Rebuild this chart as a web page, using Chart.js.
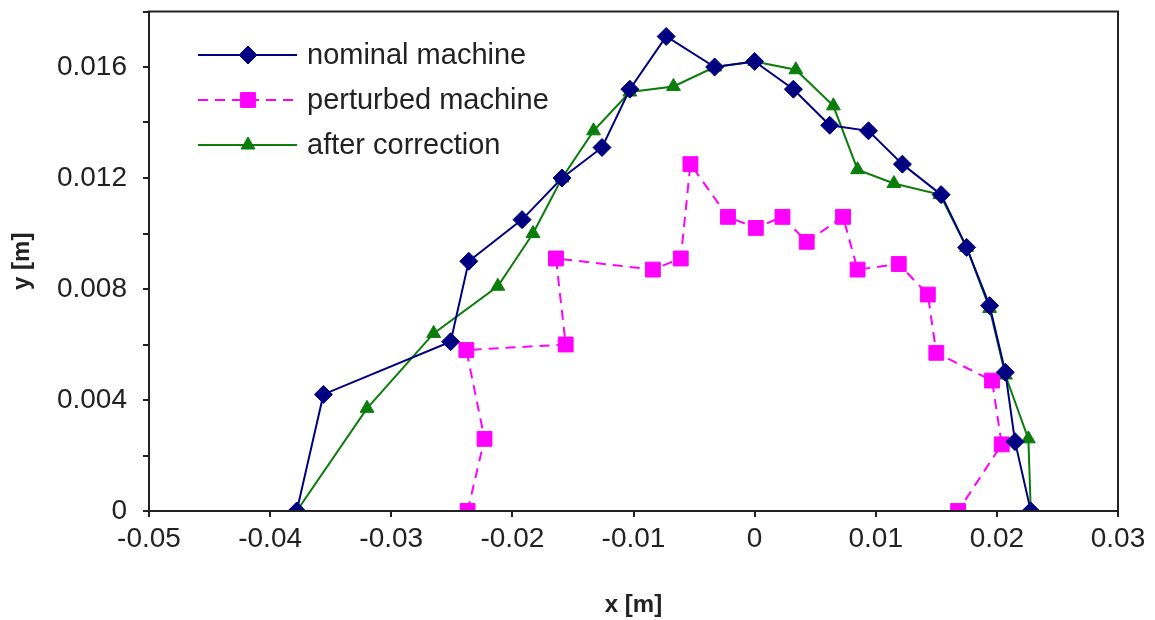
<!DOCTYPE html>
<html>
<head>
<meta charset="utf-8">
<script src="https://cdn.jsdelivr.net/npm/chart.js@4"></script>
<style>
  body { margin: 0; background: #fff; }
  #wrap { width: 1155px; height: 620px; }
</style>
</head>
<body>
<div id="wrap"><canvas id="myChart" width="1155" height="620"></canvas></div>
<script>
// series, x and y in metres
var nominalX = [-0.0378, -0.0356, -0.0251, -0.0236, -0.0192, -0.0159, -0.0126, -0.0103, -0.0073, -0.0033, 0.0, 0.0032, 0.0062, 0.0094, 0.0122, 0.0154, 0.0175, 0.0194, 0.0207, 0.0215, 0.0228];
var nominalY = [0.0, 0.0042, 0.0061, 0.0090, 0.0105, 0.0120, 0.0131, 0.0152, 0.0171, 0.0160, 0.0162, 0.0152, 0.0139, 0.0137, 0.0125, 0.0114, 0.0095, 0.0074, 0.0050, 0.0025, 0.0];

var perturbedX = [-0.0237, -0.0223, -0.0238, -0.0156, -0.0164, -0.0084, -0.0061, -0.0053, -0.0022, 0.0001, 0.0023, 0.0043, 0.0073, 0.0085, 0.0119, 0.0143, 0.0150, 0.0196, 0.0204, 0.0168];
var perturbedY = [0.0, 0.0026, 0.0058, 0.0060, 0.0091, 0.0087, 0.0091, 0.0125, 0.0106, 0.0102, 0.0106, 0.0097, 0.0106, 0.0087, 0.0089, 0.0078, 0.0057, 0.0047, 0.0024, 0.0];

var correctedX = [-0.0378, -0.0320, -0.0265, -0.0212, -0.0183, -0.0159, -0.0133, -0.0103, -0.0067, -0.0033, 0.0, 0.0034, 0.0065, 0.0085, 0.0115, 0.0153, 0.0175, 0.0194, 0.0207, 0.0226, 0.0228];
var correctedY = [0.0, 0.0037, 0.0064, 0.0081, 0.0100, 0.0120, 0.0137, 0.0151, 0.0153, 0.0160, 0.0162, 0.0159, 0.0146, 0.0123, 0.0118, 0.0114, 0.0095, 0.0073, 0.0049, 0.0026, 0.0];

var seriesNames = ["nominal machine", "perturbed machine", "after correction"];

function toPoints(xs, ys) {
  var pts = [];
  for (var i = 0; i < xs.length; i++) pts.push({ x: xs[i], y: ys[i] });
  return pts;
}

var NAVY = "#000080";
var MAGENTA = "#ff00ff";
var GREEN = "#0a7d0a";
var FONT = "'Liberation Sans', Arial, sans-serif";

// box around the plot + excel style legend (line, marker, line) inside top-left
var framePlugin = {
  id: "frame",
  afterDraw: function (chart) {
    var ctx = chart.ctx;
    var a = chart.chartArea;
    ctx.save();
    ctx.strokeStyle = "#222";
    ctx.lineWidth = 2;
    ctx.strokeRect(a.left, a.top, a.right - a.left, a.bottom - a.top);

    var rowY = [55, 100, 145];
    chart.data.datasets.forEach(function (ds, i) {
      var y = rowY[i];
      ctx.strokeStyle = ds.borderColor;
      ctx.lineWidth = 2;
      ctx.setLineDash(ds.borderDash || []);
      ctx.beginPath();
      ctx.moveTo(198, y);
      ctx.lineTo(297, y);
      ctx.stroke();
      ctx.setLineDash([]);
      ctx.fillStyle = ds.backgroundColor;
      ctx.lineWidth = 1;
      Chart.helpers.drawPoint(ctx, { pointStyle: ds.pointStyle, radius: ds.pointRadius, rotation: 0, borderWidth: 1 }, 248, y);
      ctx.fillStyle = "#222";
      ctx.font = "29px " + FONT;
      ctx.textBaseline = "middle";
      ctx.textAlign = "left";
      ctx.fillText(ds.label, 307, y + 1);
    });
    ctx.restore();
  }
};

var data = {
  datasets: [
    {
      label: seriesNames[0],
      data: toPoints(nominalX, nominalY),
      showLine: true,
      borderColor: NAVY,
      backgroundColor: NAVY,
      borderWidth: 2,
      pointStyle: "rectRot",
      pointRadius: 9,
      pointBorderWidth: 1
    },
    {
      label: seriesNames[1],
      data: toPoints(perturbedX, perturbedY),
      showLine: true,
      borderColor: MAGENTA,
      backgroundColor: MAGENTA,
      borderWidth: 2,
      borderDash: [10, 7],
      pointStyle: "rect",
      pointRadius: 10.5,
      pointBorderWidth: 1
    },
    {
      label: seriesNames[2],
      data: toPoints(correctedX, correctedY),
      showLine: true,
      borderColor: GREEN,
      backgroundColor: GREEN,
      borderWidth: 2,
      pointStyle: "triangle",
      pointRadius: 8,
      pointBorderWidth: 1
    }
  ]
};

var tickFont = { family: FONT, size: 28 };
var titleFont = { family: FONT, size: 24, weight: "bold" };

const config = {
  type: "scatter",
  data: data,
  options: {
    responsive: false,
    animation: false,
    layout: { padding: { top: 9, right: 37, left: 8, bottom: 0 } },
    plugins: {
      legend: { display: false },
      tooltip: { enabled: false }
    },
    scales: {
      x: {
        type: "linear",
        min: -0.05,
        max: 0.03,
        border: { display: false },
        grid: { drawOnChartArea: false, drawTicks: true, tickLength: 6, color: "#222", lineWidth: 2 },
        ticks: {
          stepSize: 0.01,
          color: "#222",
          font: tickFont,
          padding: 5,
          maxRotation: 0,
          callback: function (v) { return String(Number(v.toFixed(2))); }
        },
        title: { display: true, text: "x [m]", color: "#222", font: titleFont, padding: { top: 13, bottom: 0 } },
        afterFit: function (scale) { scale.height = 109; }
      },
      y: {
        type: "linear",
        min: 0,
        max: 0.018,
        border: { display: false },
        grid: { drawOnChartArea: false, drawTicks: true, tickLength: 6, color: "#222", lineWidth: 2 },
        ticks: {
          stepSize: 0.002,
          color: "#222",
          font: tickFont,
          padding: 16,
          callback: function (v) {
            var k = Math.round(v / 0.002);
            if (k % 2 !== 0) return "";
            return String(Number(v.toFixed(3)));
          }
        },
        title: { display: true, text: "y [m]", color: "#222", font: titleFont, padding: { top: 0, bottom: 0 } },
        afterFit: function (scale) {
          scale.width = 141;
          scale.paddingTop = 0;
          scale.paddingBottom = 0;
        }
      }
    }
  },
  plugins: [framePlugin]
};

const myChart = new Chart(document.getElementById("myChart"), config);
</script>
</body>
</html>
